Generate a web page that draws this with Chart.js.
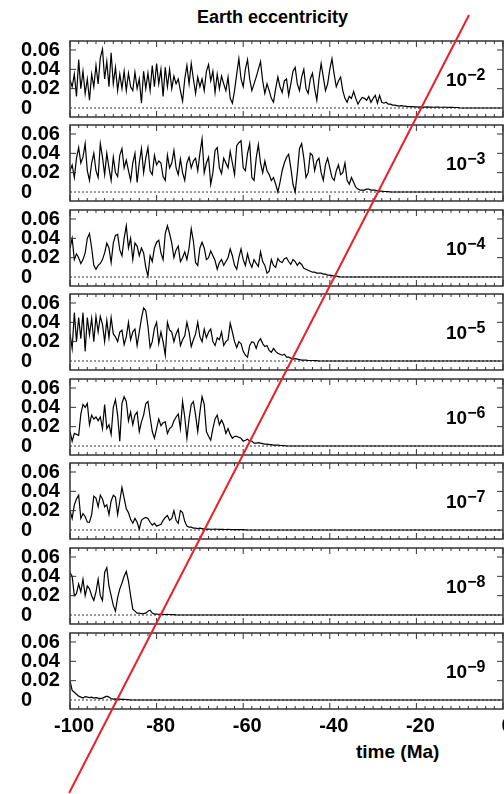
<!DOCTYPE html>
<html>
<head>
<meta charset="utf-8">
<script src="https://cdn.jsdelivr.net/npm/chart.js@4.4.0/dist/chart.umd.min.js"></script>
<style>
  html, body { margin: 0; padding: 0; background: #fff; }
  body { width: 504px; height: 794px; position: relative; overflow: hidden; font-family: "Liberation Sans", Arial, sans-serif; }
  canvas { position: absolute; left: 0; }
  .txt { position: absolute; font-weight: bold; color: #000; white-space: nowrap; }
  .lab { font-size: 19px; line-height: 19px; left: 446px; }
  .lab sup { font-size: 16px; vertical-align: baseline; position: relative; top: -6px; }
</style>
</head>
<body>
<div class="txt" style="left:197px;top:8px;font-size:18px;line-height:18px">Earth eccentricity</div>
<div class="txt" style="left:356px;top:742px;font-size:19px;line-height:19px">time (Ma)</div>
<script>
// tolerance exponent of each panel (10^-2 ... 10^-9)
const exponents = [-2, -3, -4, -5, -6, -7, -8, -9];
const yTicks = [0, 0.02, 0.04, 0.06];
const yTickLabels = ['0', '0.02', '0.04', '0.06'];
const xTicks = [-100, -80, -60, -40, -20, 0];
const xTickLabels = ['-100', '-80', '-60', '-40', '-20', '0'];

// eccentricity difference, sampled every 0.5 Ma from -100 Ma
const startTime = -100;
const timeStep = 0.5;
const ecc2 = [
  0.029,0.022,0.035,0.012,0.050,0.020,0.038,0.015,0.030,0.008,
  0.035,0.022,0.044,0.025,0.052,0.061,0.030,0.048,0.022,0.057,
  0.025,0.042,0.018,0.035,0.020,0.038,0.018,0.036,0.022,0.018,
  0.037,0.020,0.030,0.005,0.038,0.020,0.036,0.018,0.044,0.022,
  0.046,0.025,0.040,0.012,0.042,0.022,0.040,0.020,0.033,0.025,
  0.030,0.018,0.007,0.030,0.044,0.025,0.046,0.030,0.015,0.032,
  0.022,0.030,0.018,0.038,0.045,0.028,0.038,0.016,0.035,0.020,
  0.033,0.025,0.018,0.032,0.010,0.005,0.018,0.035,0.051,0.030,
  0.022,0.040,0.050,0.030,0.018,0.025,0.032,0.040,0.048,0.028,
  0.015,0.025,0.018,0.010,0.006,0.020,0.032,0.022,0.016,0.028,
  0.030,0.013,0.025,0.038,0.042,0.025,0.018,0.032,0.040,0.020,
  0.015,0.030,0.036,0.020,0.008,0.030,0.046,0.032,0.018,0.025,
  0.040,0.051,0.035,0.022,0.028,0.032,0.018,0.010,0.006,0.012,
  0.010,0.017,0.010,0.004,0.008,0.011,0.010,0.008,
  0.012,0.006,0.010,0.013,0.005,0.013,0.006,0.005,0.006,0.004,0.004,0.003,
  0.003,0.0025,0.002,0.0025,0.002,0.002,0.0015,0.0015,0.0015,0.0012,0.0012,0.001,
  0.0012,0.001,0.001,0.0012,0.001,0.001,0.0008,0.001,0.001,0.0008,0.0008,0.001,
  0.0008,0.0006,0.0008,0.0006,0.0005,0.0005,0
];
const ecc3 = [
  0.022,0.028,0.015,0.035,0.046,0.030,0.036,0.050,0.022,0.012,
  0.030,0.040,0.022,0.015,0.050,0.036,0.018,0.040,0.025,0.012,
  0.036,0.020,0.016,0.038,0.045,0.025,0.033,0.022,0.012,0.030,
  0.040,0.010,0.030,0.045,0.020,0.035,0.046,0.022,0.018,0.038,
  0.028,0.032,0.030,0.016,0.012,0.038,0.025,0.030,0.043,0.025,
  0.018,0.034,0.020,0.012,0.030,0.036,0.025,0.032,0.035,0.022,
  0.040,0.055,0.020,0.030,0.036,0.008,0.020,0.043,0.046,0.025,
  0.019,0.035,0.030,0.025,0.042,0.030,0.018,0.048,0.051,0.053,
  0.025,0.022,0.040,0.050,0.015,0.012,0.035,0.049,0.030,0.020,
  0.032,0.022,0.018,0.012,0.015,0.008,0.000,0.010,0.022,0.030,
  0.036,0.039,0.025,0.008,0.000,0.020,0.045,0.050,0.035,0.015,
  0.020,0.040,0.038,0.022,0.032,0.035,0.020,0.012,0.028,0.035,
  0.025,0.015,0.012,0.022,0.028,0.018,0.020,0.030,0.012,0.008,
  0.015,0.010,0.005,0.003,0.002,0.002,0.002,0.003,0.003,0.002,
  0.002,0.002,0.001,0.001,0.001,0.0005,0.0005,0.0003,0
];
const ecc4 = [
  0.030,0.040,0.018,0.024,0.020,0.014,0.018,0.025,0.040,0.045,
  0.030,0.012,0.008,0.012,0.014,0.018,0.025,0.035,0.030,0.015,
  0.035,0.043,0.044,0.028,0.022,0.040,0.053,0.030,0.040,0.018,
  0.035,0.032,0.022,0.030,0.025,0.010,0.001,0.022,0.016,0.030,
  0.036,0.038,0.025,0.018,0.045,0.053,0.045,0.035,0.020,0.028,
  0.032,0.016,0.020,0.026,0.018,0.030,0.050,0.037,0.015,0.012,
  0.030,0.036,0.030,0.018,0.020,0.027,0.022,0.017,0.008,0.015,
  0.018,0.012,0.016,0.020,0.029,0.022,0.012,0.008,0.020,0.029,
  0.018,0.012,0.024,0.015,0.010,0.018,0.014,0.011,0.026,0.016,
  0.012,0.004,0.006,0.018,0.012,0.010,0.019,0.016,0.015,0.019,
  0.020,0.016,0.013,0.018,0.016,0.012,0.015,0.013,0.009,0.008,
  0.007,0.006,0.005,0.005,0.004,0.004,0.004,0.003,0.003,0.002,
  0.002,0.0015,0.001,0.001,0.0005,0
];
const ecc5 = [
  0.028,0.013,0.050,0.020,0.045,0.023,0.050,0.010,0.045,0.027,
  0.044,0.020,0.046,0.030,0.046,0.038,0.020,0.042,0.024,0.045,
  0.028,0.025,0.020,0.030,0.032,0.017,0.025,0.040,0.022,0.030,
  0.033,0.016,0.030,0.044,0.055,0.052,0.036,0.014,0.020,0.034,
  0.040,0.018,0.030,0.020,0.006,0.040,0.032,0.030,0.020,0.028,
  0.033,0.016,0.022,0.026,0.040,0.030,0.015,0.022,0.028,0.040,
  0.025,0.020,0.033,0.024,0.030,0.033,0.020,0.016,0.024,0.022,
  0.030,0.016,0.020,0.022,0.039,0.030,0.020,0.014,0.020,0.018,
  0.010,0.006,0.004,0.016,0.020,0.019,0.013,0.020,0.023,0.018,
  0.015,0.016,0.011,0.009,0.013,0.010,0.008,0.007,0.006,0.007,
  0.004,0.004,0.003,0.002,0.0025,0.002,0.0015,0.001,0.001,0.001,
  0.0005,0.0005,0.0005,0.0003,0.0003,0
];
const ecc6 = [
  0.015,0.005,0.013,0.012,0.011,0.033,0.043,0.040,0.044,0.022,
  0.032,0.028,0.030,0.026,0.030,0.018,0.043,0.018,0.022,0.012,
  0.040,0.048,0.032,0.005,0.044,0.051,0.046,0.026,0.035,0.022,
  0.032,0.035,0.015,0.025,0.032,0.044,0.046,0.030,0.015,0.008,
  0.018,0.028,0.021,0.024,0.025,0.013,0.018,0.020,0.026,0.030,
  0.033,0.018,0.046,0.030,0.008,0.028,0.043,0.046,0.032,0.015,
  0.035,0.051,0.043,0.015,0.010,0.006,0.018,0.028,0.032,0.022,
  0.027,0.022,0.013,0.018,0.012,0.008,0.010,0.010,0.009,0.008,
  0.005,0.006,0.007,0.005,0.005,0.003,0.003,0.0035,0.003,0.0025,
  0.002,0.002,0.0015,0.0015,0.001,0.001,0.001,0.0007,0.0005,0.0003,
  0
];
const ecc7 = [
  0.020,0.012,0.026,0.032,0.036,0.012,0.017,0.014,0.008,0.008,
  0.016,0.035,0.033,0.024,0.036,0.032,0.024,0.026,0.016,0.030,
  0.036,0.034,0.016,0.030,0.044,0.033,0.022,0.018,0.011,0.007,
  0.012,0.008,0.001,0.010,0.012,0.013,0.012,0.008,0.005,0.007,
  0.004,0.005,0.006,0.010,0.013,0.015,0.010,0.012,0.020,0.010,
  0.007,0.020,0.018,0.009,0.004,0.003,0.003,0.002,0.002,0.0015,
  0.002,0.0015,0.001,0.001,0.001,0.0008,
  0.0008,0.001,0.0008,0.0006,0.0008,0.0006,0.0005,0.0006,0.0005,0.0004,
  0.0005,0.0004,0.0003,0.0004,0.0003,0.0002,0
];
const ecc8 = [
  0.044,0.040,0.020,0.022,0.032,0.024,0.037,0.020,0.030,0.027,
  0.020,0.015,0.024,0.037,0.020,0.015,0.044,0.049,0.030,0.020,
  0.010,0.004,0.018,0.027,0.033,0.040,0.045,0.035,0.020,0.006,
  0.004,0.002,0.002,0.0015,0.0015,0.002,0.004,0.005,0.002,0.001,
  0.001,0.0008,0.001,0.0008,0.0005,0.0007,0.0005,0.0003,0.0003,0
];
const ecc9 = [
  0.020,0.010,0.008,0.006,0.004,0.003,0.002,0.0035,0.003,0.0025,
  0.003,0.002,0.0025,0.002,0.0015,0.002,0.003,0.004,0.003,0.0015,
  0.001,0.0012,0.0008,0.001,0.0006,0.0008,0.0005,0.0004,0
];
const series = [ecc2, ecc3, ecc4, ecc5, ecc6, ecc7, ecc8, ecc9];
// curves are flat at zero up to the present
const presentDay = {x: 0, y: 0};
const baseline = [{x: -100, y: 0}, {x: 0, y: 0}];

// red divergence line: time vs tolerance exponent
const redLineTime = [-7.85, -100.2];
const redLineExponent = [-0.9, -10.1];

// layout
const panelTop = [41, 125, 210, 294, 379, 463, 548, 633];
const panelHeight = 76;
const plotLeft = 70, plotRight = 503;
const font = {family: "'Liberation Sans', Arial, sans-serif", size: 20, weight: 'bold'};

const frameTicks = {
  id: 'frameTicks',
  afterDraw(chart) {
    const {ctx, chartArea: a, scales: {x, y}} = chart;
    ctx.save();
    ctx.strokeStyle = '#333';
    ctx.lineWidth = 1;
    ctx.beginPath();
    for (let t = -100; t <= 0; t += 2) {
      const px = x.getPixelForValue(t);
      const len = t % 20 === 0 ? 6 : 3;
      ctx.moveTo(px, a.top); ctx.lineTo(px, a.top + len);
      ctx.moveTo(px, a.bottom); ctx.lineTo(px, a.bottom - len);
    }
    yTicks.forEach(v => {
      if (!v) return;
      const py = y.getPixelForValue(v);
      ctx.moveTo(a.left, py); ctx.lineTo(a.left + 6, py);
      ctx.moveTo(a.right, py); ctx.lineTo(a.right - 6, py);
    });
    ctx.stroke();
    ctx.lineWidth = 1.5;
    ctx.strokeRect(a.left, a.top, a.right - a.left, a.bottom - a.top);
    ctx.restore();
  }
};

series.forEach((vals, i) => {
  const last = i === series.length - 1;
  const padTop = 16;
  const padBottom = last ? 0 : 16;
  const axisH = last ? 42 : 0;
  const canvas = document.createElement('canvas');
  canvas.width = 540;
  canvas.height = padTop + panelHeight + padBottom + axisH;
  canvas.style.top = (panelTop[i] - padTop) + 'px';
  document.body.appendChild(canvas);

  const pts = vals.map((v, k) => ({x: startTime + k * timeStep, y: v}));
  pts.push(presentDay);

  new Chart(canvas, {
    type: 'line',
    data: {
      datasets: [
        {data: pts, borderColor: '#000', borderWidth: 1.2, pointRadius: 0, order: 1},
        {data: baseline, borderColor: '#333', borderWidth: 1, borderDash: [2, 2], pointRadius: 0, order: 2}
      ]
    },
    options: {
      responsive: false,
      animation: false,
      devicePixelRatio: 1,
      layout: {padding: {top: padTop, bottom: padBottom, left: 21, right: 540 - plotRight}},
      plugins: {legend: {display: false}, tooltip: {enabled: false}},
      scales: {
        x: {
          type: 'linear', min: -100, max: 0, display: last,
          grid: {display: false, drawTicks: false}, border: {display: false},
          afterBuildTicks: s => { s.ticks = xTicks.map(v => ({value: v})); },
          afterFit: s => { s.height = axisH; },
          ticks: {callback: (v, k) => xTickLabels[k], font, color: '#000', padding: 5, labelOffset: 4, maxRotation: 0, autoSkip: false}
        },
        y: {
          type: 'linear', min: -0.0093, max: 0.0693,
          grid: {display: false, drawTicks: false}, border: {display: false},
          afterBuildTicks: s => { s.ticks = yTicks.map(v => ({value: v})); },
          afterFit: s => { s.width = plotLeft - 21; },
          ticks: {callback: (v, k) => yTickLabels[k], crossAlign: 'far', font, color: '#000', padding: 0, autoSkip: false}
        }
      }
    },
    plugins: [frameTicks]
  });

  const lab = document.createElement('div');
  lab.className = 'txt lab';
  lab.style.top = (panelTop[i] + 29) + 'px';
  lab.innerHTML = '10<sup>\u2212' + (-exponents[i]) + '</sup>';
  document.body.appendChild(lab);
});

// overlay for the red line, scales span the whole page
const pxPerMa = (plotRight - plotLeft) / 100;
const pxPerDecade = 84.57;
const firstZeroY = 108;
const ov = document.createElement('canvas');
ov.width = 504; ov.height = 794;
ov.style.top = '0px';
ov.style.pointerEvents = 'none';
document.body.appendChild(ov);
new Chart(ov, {
  type: 'line',
  data: {
    datasets: [{
      data: redLineTime.map((t, k) => ({x: t, y: redLineExponent[k]})),
      borderColor: '#e8202a', borderWidth: 2, pointRadius: 0
    }]
  },
  options: {
    responsive: false,
    animation: false,
    devicePixelRatio: 1,
    layout: {padding: 0},
    plugins: {legend: {display: false}, tooltip: {enabled: false}},
    scales: {
      x: {type: 'linear', display: false, min: -100 - plotLeft / pxPerMa, max: -100 + (504 - plotLeft) / pxPerMa},
      y: {type: 'linear', display: false, min: exponents[0] - (794 - firstZeroY) / pxPerDecade, max: exponents[0] + firstZeroY / pxPerDecade}
    }
  }
});
</script>
</body>
</html>
